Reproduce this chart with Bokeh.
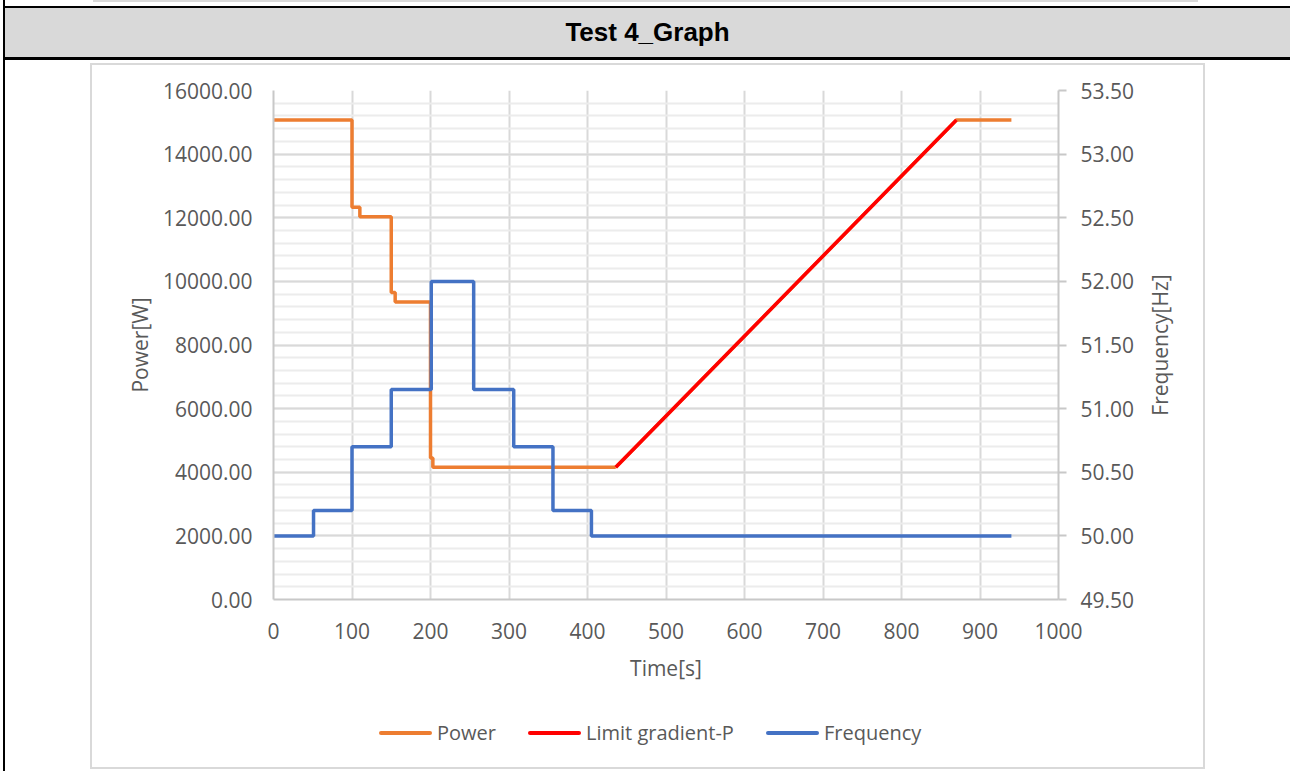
import math
from bokeh.plotting import figure
from bokeh.layouts import column, row
from bokeh.models import (Range1d, LinearAxis, SingleIntervalTicker,
                          NumeralTickFormatter, Div, Spacer)
from bokeh.embed import file_html
from bokeh.resources import INLINE

# ---------------- data ----------------
power_t = [0, 100, 110, 150, 155, 200, 203, 436]
power_w = [15070, 12330, 12030, 9650, 9350, 4450, 4160, 4160]
power_tail_t = [436, 870, 940]
power_tail_w = [4160, 15070, 15070]
limit_t = [436, 870]
limit_w = [4160, 15070]
freq_t = [0, 51, 100, 150, 201, 255, 306, 356, 405, 940]
freq_hz = [50.0, 50.2, 50.7, 51.15, 52.0, 51.15, 50.7, 50.2, 50.0, 50.0]

header_text = "Test 4_Graph"
x_title = "Time[s]"
y_title = "Power[W]"
y2_title = "Frequency[Hz]"
series_names = ["Power", "Limit gradient-P", "Frequency"]

ORANGE = "#ED7D31"
RED = "#FF0000"
BLUE = "#4472C4"
TXT = "#595959"
FONT = "Open Sans"
series_colors = [ORANGE, RED, BLUE]

# ---------------- page frame (document table look) ----------------
header_html = (
    '<div style="position:relative;width:1290px;height:60px;overflow:hidden;">'
    '<div style="position:absolute;left:93px;top:-2px;width:1105px;height:4px;'
    'border:2px solid #d9d9d9;"></div>'
    '<div style="position:absolute;left:3px;top:0px;width:2px;height:60px;background:#000;"></div>'
    '<div style="position:absolute;left:3px;top:6px;width:1287px;height:2px;background:#000;"></div>'
    '<div style="position:absolute;left:5px;top:8px;width:1285px;height:49px;background:#d9d9d9;'
    'display:flex;align-items:center;justify-content:center;'
    "font-family:'Liberation Sans',Arial,sans-serif;font-weight:bold;font-size:26px;color:#000;\">"
    + header_text + '</div>'
    '<div style="position:absolute;left:3px;top:57px;width:1287px;height:3px;background:#000;"></div>'
    '</div>'
)
header = Div(text=header_html, width=1290, height=60, margin=0)

left_html = ('<div style="position:relative;width:92px;height:711px;">'
             '<div style="position:absolute;left:3px;top:0px;width:2px;height:711px;background:#000;"></div>'
             '</div>')
left = Div(text=left_html, width=92, height=711, margin=0)

# ---------------- chart ----------------
BOXW = 1111
CW, CH = 1048, 635
FL, FR, FT, FB = 181, 966, 25, 534

p = figure(width=CW, height=CH, x_range=Range1d(0, 1000), y_range=Range1d(0, 16000),
           output_backend="svg", toolbar_location=None,
           min_border_left=FL, min_border_right=CW - FR,
           min_border_top=FT, min_border_bottom=CH - FB)
p.outline_line_color = None
p.background_fill_color = "white"
p.border_fill_color = "white"

p.extra_y_ranges = {"freq": Range1d(49.5, 53.5)}

xa = p.xaxis[0]
xa.ticker = SingleIntervalTicker(interval=100, num_minor_ticks=0)
xa.formatter = NumeralTickFormatter(format="0")
ya = p.yaxis[0]
ya.ticker = SingleIntervalTicker(interval=2000, num_minor_ticks=5)
ya.formatter = NumeralTickFormatter(format="0.00")
ra = LinearAxis(y_range_name="freq",
                ticker=SingleIntervalTicker(interval=0.5, num_minor_ticks=0),
                formatter=NumeralTickFormatter(format="0.00"))
p.add_layout(ra, "right")

for ax in (xa, ya, ra):
    ax.axis_line_color = "#c8c8c8"
    ax.axis_line_width = 2
    ax.major_tick_in = 0
    ax.minor_tick_in = 0
    ax.minor_tick_out = 0
    ax.major_label_text_font = FONT
    ax.major_label_text_font_size = "21px"
    ax.major_label_text_color = TXT
    ax.axis_label_text_font = FONT
    ax.axis_label_text_font_size = "21px"
    ax.axis_label_text_color = TXT
    ax.axis_label_text_font_style = "normal"
xa.major_tick_out = 0
ya.major_tick_out = 0
ra.major_tick_out = 8
ra.major_tick_line_color = "#c8c8c8"
ra.major_tick_line_width = 2
xa.major_label_standoff = 23
ya.major_label_standoff = 21
ra.major_label_standoff = 14

xa.axis_label = x_title
ya.axis_label = y_title
xa.axis_label_standoff = 12
ya.axis_label_standoff = 6

p.xgrid.grid_line_color = "#d9d9d9"
p.xgrid.grid_line_width = 2
p.ygrid.grid_line_color = "#d9d9d9"
p.ygrid.grid_line_width = 2
p.ygrid.minor_grid_line_color = "#ececec"
p.ygrid.minor_grid_line_width = 2

p.step(power_t, power_w, mode="after", line_color=ORANGE, line_width=3.5)
p.line(power_tail_t, power_tail_w, line_color=ORANGE, line_width=3.5)
p.line(limit_t, limit_w, line_color=RED, line_width=3.5)
p.step(freq_t, freq_hz, mode="after", y_range_name="freq", line_color=BLUE, line_width=3.5)

# right-hand axis title, reading bottom-to-top like the reference
TW = BOXW - CW
ftitle_html = (
    '<div style="position:relative;width:%dpx;height:%dpx;">'
    '<div style="position:absolute;left:20px;top:280px;transform:translate(-50%%,-50%%) rotate(-90deg);'
    "white-space:nowrap;font-family:'Open Sans',sans-serif;font-size:21px;line-height:28px;"
    'color:#595959;">%s</div></div>' % (TW, CH, y2_title)
)
ftitle = Div(text=ftitle_html, width=TW, height=CH, margin=0)

# ---------------- legend (below the plot, inside the chart box) ----------------
leg_swatch_left = [287, 436, 674]
leg_text_left = [345, 494, 732]
leg_parts = ['<div style="position:relative;width:%dpx;height:67px;' % BOXW +
             "font-family:'Open Sans',sans-serif;font-size:20px;color:#595959;\">"]
for name, col, sx, tx in zip(series_names, series_colors, leg_swatch_left, leg_text_left):
    leg_parts.append('<div style="position:absolute;left:%dpx;top:31px;width:53px;height:4px;'
                     'background:%s;border-radius:2px;"></div>' % (sx, col))
    leg_parts.append('<div style="position:absolute;left:%dpx;top:19px;line-height:28px;'
                     'white-space:nowrap;">%s</div>' % (tx, name))
leg_parts.append('</div>')
legend_div = Div(text="".join(leg_parts), width=BOXW, height=67, margin=0)

chart = column(row(p, ftitle), legend_div, styles={"outline": "2px solid #d9d9d9"})
body = row(left, column(Spacer(width=BOXW, height=5, margin=0), chart))
root = column(header, body)

open("out.html", "w").write(file_html(root, INLINE))
